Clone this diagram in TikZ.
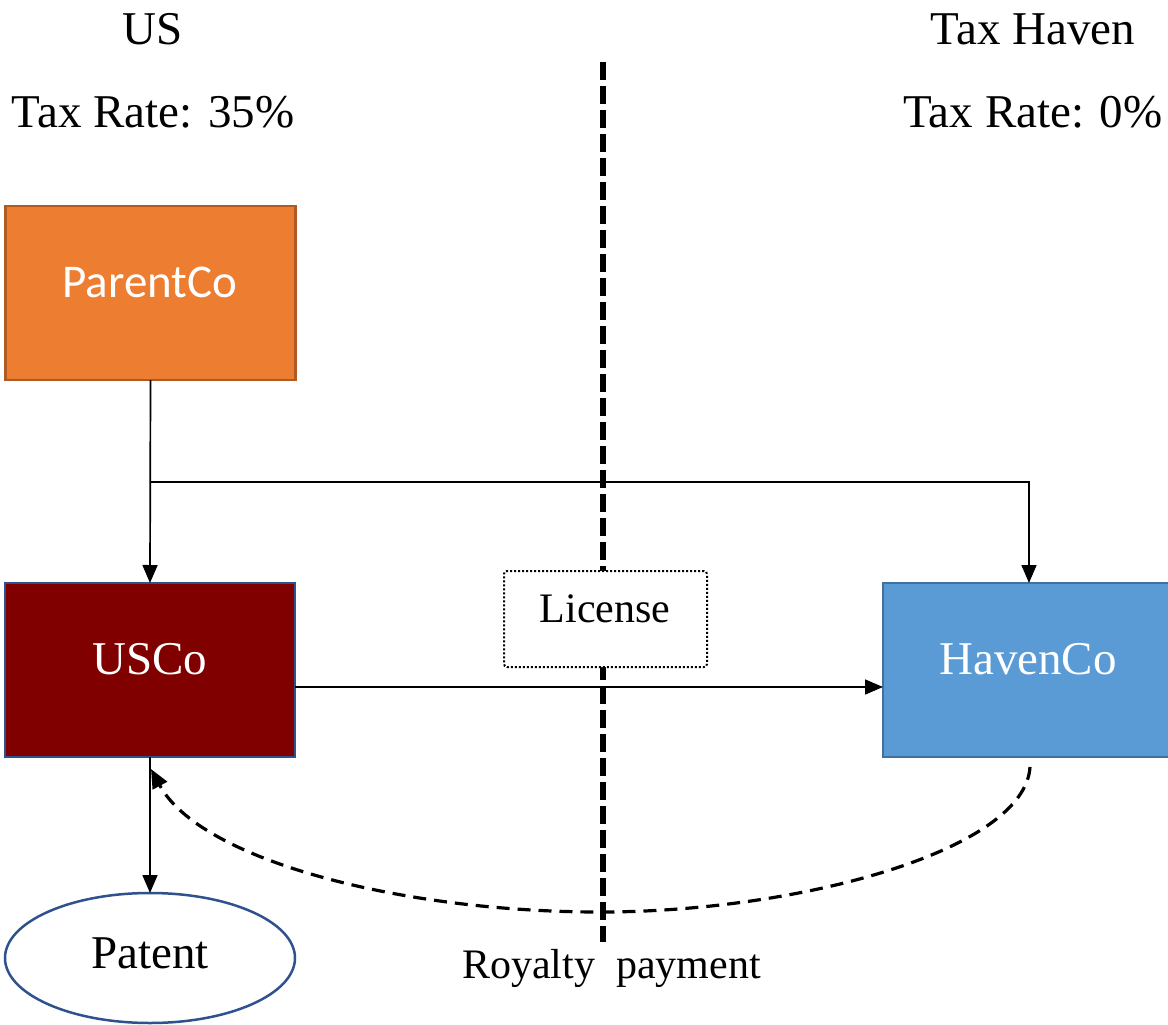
\documentclass[tikz,border=0pt]{standalone}
\usepackage{fontspec}
\setmainfont{Liberation Serif}
\newfontfamily\boxsans{Carlito}
\usetikzlibrary{arrows.meta,shapes.geometric}

\definecolor{parentfill}{HTML}{ED7D31}
\definecolor{parentedge}{HTML}{AE5A21}
\definecolor{uscofill}{HTML}{800000}
\definecolor{uscoedge}{HTML}{2F528F}
\definecolor{havenfill}{HTML}{5B9BD5}
\definecolor{havenedge}{HTML}{41719C}

\begin{document}
\begin{tikzpicture}[x=1pt,y=-1pt,
  every node/.style={inner sep=0pt,outer sep=0pt},
  bigtext/.style={font=\fontsize{47}{56}\selectfont,anchor=base},
  midtext/.style={font=\fontsize{42}{50}\selectfont,anchor=base},
  entity/.style={rectangle,minimum width=290pt,minimum height=174pt,line width=2.5pt},
  conn/.style={line width=1.7pt,black},
  tip/.style={-{Triangle[length=18pt,width=15pt]}},
  border/.style={line width=6pt,dash pattern=on 18pt off 6pt},
  royalty/.style={line width=3.2pt,dash pattern=on 13pt off 8pt},
]
\useasboundingbox (0,0) rectangle (1168,1025);

% jurisdiction headings
\node[bigtext] (us) at (153,45) {US};
\node[bigtext] (usrate) at (153,127) {Tax Rate: 35\%};
\node[bigtext] (haventitle) at (1033,45) {Tax Haven};
\node[bigtext] (havenrate) at (1033,127) {Tax Rate: 0\%};

% border between the two jurisdictions
\coordinate (bordertop) at (603,62);
\coordinate (borderbottom) at (603,942);
\draw[border] (bordertop) -- (borderbottom);

% entities
\node[entity,fill=parentfill,draw=parentedge] (parent) at (150.5,293) {};
\node[bigtext,text=white,font=\boxsans\fontsize{47}{56}\selectfont] (parentlbl) at (150,297) {ParentCo};

\node[entity,fill=uscofill,draw=uscoedge] (usco) at (150,670) {};
\node[bigtext,text=white] (uscolbl) at (150,674) {USCo};

\node[entity,fill=havenfill,draw=havenedge] (haven) at (1028,670) {};
\node[bigtext,text=white] (havenlbl) at (1028,674) {HavenCo};

\node[ellipse,draw=uscoedge,line width=2.5pt,fill=white,minimum width=290pt,minimum height=130pt] (patent) at (150,958) {};
\node[bigtext] (patentlbl) at (150,968) {Patent};

% license agreement box on the border
\node[draw,line width=2pt,dash pattern=on 2pt off 2pt,rounded corners=3pt,fill=white,minimum width=203pt,minimum height=96pt] (license) at (605.5,619) {};
\node[midtext] (licenselbl) at (605,622) {License};

% ownership connectors
\coordinate (branch) at (150,482);
\draw[conn,tip] (parent.south) -- (usco.north);
\draw[conn,tip] (branch) -| ([xshift=1pt]haven.north);

% license flow
\draw[conn,tip] ([yshift=-17pt]usco.east) -- ([yshift=-17pt]haven.west);

% patent held by USCo
\draw[conn,tip] (usco.south) -- (patent.north);

% royalty payment
\coordinate (roystart) at (1030,767);
\coordinate (roylow) at (600,912);
\coordinate (royend) at (151,769);
\draw[royalty,-{Triangle[length=19pt,width=16pt]}] (roystart) .. controls (1025,850) and (800,912) .. (roylow)
  .. controls (400,912) and (200,860) .. (royend);
\node[midtext] (roylbl) at (611.5,978) {Royalty\ \ payment};
\end{tikzpicture}
\end{document}
